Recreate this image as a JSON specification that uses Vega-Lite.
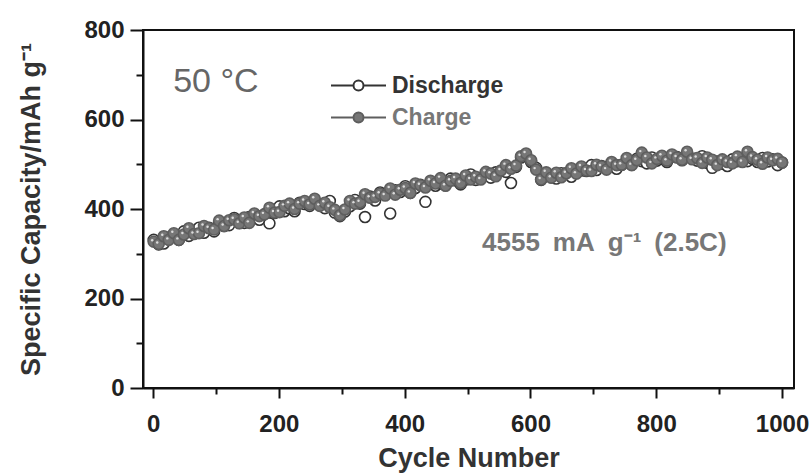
{
  "$schema": "https://vega.github.io/schema/vega-lite/v6.json",
  "width": 651,
  "height": 358,
  "autosize": {"type": "none"},
  "padding": {"left": 143, "top": 30, "right": 16, "bottom": 85},
  "background": "white",
  "config": {
    "font": "Liberation Sans",
    "view": {"stroke": "#111111", "strokeWidth": 2},
    "axis": {
      "domainColor": "#111111", "domainWidth": 2,
      "tickColor": "#111111", "tickWidth": 2,
      "labelFont": "Liberation Sans", "labelFontWeight": "bold", "labelFontSize": 24, "labelColor": "#222222",
      "titleFont": "Liberation Sans", "titleFontWeight": "bold", "titleFontSize": 27, "titleColor": "#333333",
      "grid": false
    },
    "legend": {"padding": 0}
  },
  "datasets": {
    "cap": [
      {"cycle":1,"Discharge":331,"Charge":327},{"cycle":9,"Discharge":321,"Charge":322},{"cycle":17,"Discharge":323,"Charge":339},
      {"cycle":25,"Discharge":336,"Charge":331},{"cycle":33,"Discharge":338,"Charge":346},{"cycle":41,"Discharge":331,"Charge":331},
      {"cycle":49,"Discharge":350,"Charge":343},{"cycle":57,"Discharge":340,"Charge":357},{"cycle":65,"Discharge":350,"Charge":344},
      {"cycle":73,"Discharge":358,"Charge":346},{"cycle":81,"Discharge":347,"Charge":362},{"cycle":89,"Discharge":358,"Charge":357},
      {"cycle":97,"Discharge":350,"Charge":354},{"cycle":105,"Discharge":369,"Charge":374},{"cycle":113,"Discharge":362,"Charge":362},
      {"cycle":121,"Discharge":364,"Charge":375},{"cycle":129,"Discharge":380,"Charge":377},{"cycle":137,"Discharge":369,"Charge":368},
      {"cycle":145,"Discharge":369,"Charge":381},{"cycle":153,"Discharge":382,"Charge":369},{"cycle":161,"Discharge":387,"Charge":390},
      {"cycle":169,"Discharge":376,"Charge":384},{"cycle":177,"Discharge":388,"Charge":388},{"cycle":185,"Discharge":368,"Charge":403},
      {"cycle":193,"Discharge":391,"Charge":392},{"cycle":201,"Discharge":406,"Charge":393},{"cycle":209,"Discharge":395,"Charge":407},
      {"cycle":217,"Discharge":401,"Charge":412},{"cycle":225,"Discharge":395,"Charge":400},{"cycle":233,"Discharge":414,"Charge":412},
      {"cycle":241,"Discharge":411,"Charge":418},{"cycle":249,"Discharge":407,"Charge":410},{"cycle":257,"Discharge":419,"Charge":423},
      {"cycle":265,"Discharge":410,"Charge":407},{"cycle":273,"Discharge":402,"Charge":414},{"cycle":281,"Discharge":418,"Charge":404},
      {"cycle":289,"Discharge":392,"Charge":398},{"cycle":297,"Discharge":384,"Charge":386},{"cycle":305,"Discharge":394,"Charge":399},
      {"cycle":313,"Discharge":406,"Charge":418},{"cycle":321,"Discharge":420,"Charge":412},{"cycle":329,"Discharge":412,"Charge":415},
      {"cycle":337,"Discharge":382,"Charge":433},{"cycle":345,"Discharge":428,"Charge":425},{"cycle":353,"Discharge":419,"Charge":427},
      {"cycle":361,"Discharge":437,"Charge":434},{"cycle":369,"Discharge":434,"Charge":430},{"cycle":377,"Discharge":390,"Charge":446},
      {"cycle":385,"Discharge":442,"Charge":432},{"cycle":393,"Discharge":438,"Charge":443},{"cycle":401,"Discharge":451,"Charge":447},
      {"cycle":409,"Discharge":436,"Charge":436},{"cycle":417,"Discharge":447,"Charge":457},{"cycle":425,"Discharge":454,"Charge":453},
      {"cycle":433,"Discharge":416,"Charge":448},{"cycle":441,"Discharge":460,"Charge":463},{"cycle":449,"Discharge":452,"Charge":457},
      {"cycle":457,"Discharge":457,"Charge":469},{"cycle":465,"Discharge":453,"Charge":452},{"cycle":473,"Discharge":468,"Charge":463},
      {"cycle":481,"Discharge":464,"Charge":468},{"cycle":489,"Discharge":455,"Charge":458},{"cycle":497,"Discharge":466,"Charge":475},
      {"cycle":505,"Discharge":477,"Charge":466},{"cycle":513,"Discharge":465,"Charge":472},{"cycle":521,"Discharge":470,"Charge":466},
      {"cycle":529,"Discharge":478,"Charge":483},{"cycle":537,"Discharge":470,"Charge":479},{"cycle":545,"Discharge":482,"Charge":473},
      {"cycle":553,"Discharge":485,"Charge":486},{"cycle":561,"Discharge":483,"Charge":498},{"cycle":569,"Discharge":458,"Charge":490},
      {"cycle":577,"Discharge":494,"Charge":497},{"cycle":585,"Discharge":515,"Charge":518},{"cycle":593,"Discharge":520,"Charge":524},
      {"cycle":601,"Discharge":505,"Charge":509},{"cycle":609,"Discharge":492,"Charge":488},{"cycle":617,"Discharge":465,"Charge":466},
      {"cycle":625,"Discharge":476,"Charge":482},{"cycle":633,"Discharge":471,"Charge":470},{"cycle":641,"Discharge":468,"Charge":481},
      {"cycle":649,"Discharge":480,"Charge":471},{"cycle":657,"Discharge":480,"Charge":480},{"cycle":665,"Discharge":472,"Charge":491},
      {"cycle":673,"Discharge":487,"Charge":479},{"cycle":681,"Discharge":486,"Charge":495},{"cycle":689,"Discharge":485,"Charge":486},
      {"cycle":697,"Discharge":498,"Charge":485},{"cycle":705,"Discharge":487,"Charge":499},{"cycle":713,"Discharge":496,"Charge":495},
      {"cycle":721,"Discharge":493,"Charge":488},{"cycle":729,"Discharge":502,"Charge":505},{"cycle":737,"Discharge":490,"Charge":498},
      {"cycle":745,"Discharge":499,"Charge":499},{"cycle":753,"Discharge":505,"Charge":514},{"cycle":761,"Discharge":499,"Charge":498},
      {"cycle":769,"Discharge":512,"Charge":509},{"cycle":777,"Discharge":507,"Charge":526},{"cycle":785,"Discharge":502,"Charge":515},
      {"cycle":793,"Discharge":515,"Charge":502},{"cycle":801,"Discharge":508,"Charge":512},{"cycle":809,"Discharge":512,"Charge":519},
      {"cycle":817,"Discharge":505,"Charge":508},{"cycle":825,"Discharge":517,"Charge":522},{"cycle":833,"Discharge":516,"Charge":515},
      {"cycle":841,"Discharge":509,"Charge":510},{"cycle":849,"Discharge":521,"Charge":528},{"cycle":857,"Discharge":513,"Charge":511},
      {"cycle":865,"Discharge":508,"Charge":514},{"cycle":873,"Discharge":518,"Charge":503},{"cycle":881,"Discharge":503,"Charge":515},
      {"cycle":889,"Discharge":492,"Charge":510},{"cycle":897,"Discharge":506,"Charge":498},{"cycle":905,"Discharge":501,"Charge":511},
      {"cycle":913,"Discharge":496,"Charge":505},{"cycle":921,"Discharge":511,"Charge":502},{"cycle":929,"Discharge":507,"Charge":517},
      {"cycle":937,"Discharge":511,"Charge":505},{"cycle":945,"Discharge":507,"Charge":528},{"cycle":953,"Discharge":512,"Charge":516},
      {"cycle":961,"Discharge":505,"Charge":510},{"cycle":969,"Discharge":514,"Charge":501},{"cycle":977,"Discharge":506,"Charge":515},
      {"cycle":985,"Discharge":511,"Charge":509},{"cycle":993,"Discharge":498,"Charge":512},{"cycle":1000,"Discharge":504,"Charge":504}
    ],
    "temp": [{"cycle": 32, "capacity": 684, "label": "50 °C"}],
    "rate": [{"cycle": 523, "capacity": 324, "label": "4555\u2002mA\u2002g\u207b\u00b9\u2002(2.5C)"}]
  },
  "layer": [
    {
      "data": {"name": "cap"},
      "transform": [{"fold": ["Discharge", "Charge"], "as": ["series", "capacity"]}],
      "mark": {"type": "point", "filled": true, "size": 120, "strokeWidth": 1.6, "opacity": 1},
      "encoding": {
        "x": {
          "field": "cycle", "type": "quantitative",
          "scale": {"domain": [-16, 1019], "nice": false, "zero": false},
          "axis": {
            "title": "Cycle Number",
            "format": "d",
            "values": [0, 100, 200, 300, 400, 500, 600, 700, 800, 900, 1000],
            "labelExpr": "datum.value % 200 === 0 ? datum.label : ''",
            "tickSize": {"condition": {"test": "datum.value % 200 === 0", "value": 10}, "value": 6},
            "labelPadding": 14, "titlePadding": 9, "labelFlush": false
          }
        },
        "y": {
          "field": "capacity", "type": "quantitative",
          "scale": {"domain": [0, 800], "nice": false},
          "axis": {
            "title": "Specific Capacity/mAh g⁻¹",
            "values": [0, 100, 200, 300, 400, 500, 600, 700, 800],
            "labelExpr": "datum.value % 200 === 0 ? datum.label : ''",
            "tickSize": {"condition": {"test": "datum.value % 200 === 0", "value": 13}, "value": 7},
            "labelPadding": 6, "titlePadding": 38
          }
        },
        "fill": {
          "field": "series", "type": "nominal",
          "scale": {"domain": ["Discharge", "Charge"], "range": ["#ffffff", "#767676"]},
          "legend": {
            "title": null, "orient": "none", "legendX": 204, "legendY": 44,
            "symbolType": "M-5.5,0H-1M1,0H5.5M-1,0A1,1,0,1,0,1,0A1,1,0,1,0,-1,0",
            "symbolSize": 100, "symbolStrokeWidth": 2,
            "labelFont": "Liberation Sans", "labelFontWeight": "bold", "labelFontSize": 23,
            "labelOffset": 22, "rowPadding": 8,
            "labelColor": {"expr": "datum.label === 'Discharge' ? '#333333' : '#777777'"}
          }
        },
        "stroke": {
          "field": "series", "type": "nominal",
          "scale": {"domain": ["Discharge", "Charge"], "range": ["#333333", "#5e5e5e"]},
          "legend": {
            "title": null, "orient": "none", "legendX": 204, "legendY": 44,
            "symbolType": "M-5.5,0H-1M1,0H5.5M-1,0A1,1,0,1,0,1,0A1,1,0,1,0,-1,0",
            "symbolSize": 100, "symbolStrokeWidth": 2,
            "labelFont": "Liberation Sans", "labelFontWeight": "bold", "labelFontSize": 23,
            "labelOffset": 22, "rowPadding": 8,
            "labelColor": {"expr": "datum.label === 'Discharge' ? '#333333' : '#777777'"}
          }
        },
        "order": {"field": "series", "sort": "descending"}
      }
    },
    {
      "data": {"name": "cap"},
      "mark": {"type": "point", "filled": true, "size": 6, "color": "#dcdcdc", "strokeWidth": 0, "xOffset": -1.5, "yOffset": -1.5, "opacity": 1},
      "encoding": {
        "x": {"field": "cycle", "type": "quantitative"},
        "y": {"field": "Charge", "type": "quantitative"}
      }
    },
    {
      "data": {"name": "temp"},
      "mark": {"type": "text", "align": "left", "baseline": "middle", "font": "Liberation Sans", "fontSize": 34, "color": "#666666"},
      "encoding": {
        "x": {"field": "cycle", "type": "quantitative"},
        "y": {"field": "capacity", "type": "quantitative"},
        "text": {"field": "label"}
      }
    },
    {
      "data": {"name": "rate"},
      "mark": {"type": "text", "align": "left", "baseline": "middle", "font": "Liberation Sans", "fontSize": 26, "fontWeight": "bold", "color": "#777777"},
      "encoding": {
        "x": {"field": "cycle", "type": "quantitative"},
        "y": {"field": "capacity", "type": "quantitative"},
        "text": {"field": "label"}
      }
    }
  ]
}
